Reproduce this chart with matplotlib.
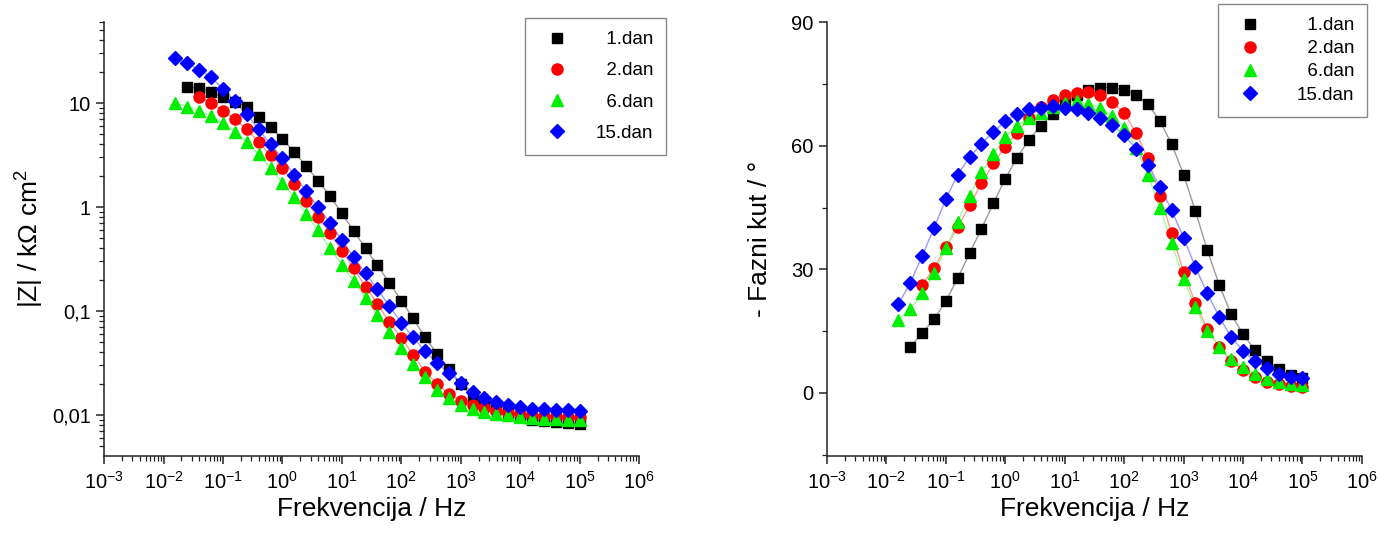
import numpy as np
import matplotlib
matplotlib.use('Agg')
import matplotlib.pyplot as plt
from matplotlib.ticker import FixedLocator, LogLocator, NullFormatter, MultipleLocator

plt.rcParams['font.family'] = ['Liberation Sans', 'DejaVu Sans']
plt.rcParams['mathtext.default'] = 'regular'

# frekvencije mjerenja (Hz)
frekvencija = [0.0158, 0.0251, 0.0398, 0.0631,
               0.1, 0.158, 0.251, 0.398, 0.631,
               1.0, 1.58, 2.51, 3.98, 6.31,
               10, 15.8, 25.1, 39.8, 63.1,
               100, 158, 251, 398, 631,
               1000, 1580, 2510, 3980, 6310,
               10000, 15800, 25100, 39800, 63100,
               100000]

# |Z| / kOhm cm2
z_dan1 = [14.3, 13.9, 12.8, 11.4, 10.2, 9.2, 7.4, 5.9, 4.5, 3.4, 2.48, 1.79, 1.28, 0.87,
          0.59, 0.40, 0.276, 0.186, 0.126, 0.085, 0.056, 0.039, 0.028, 0.020, 0.0150,
          0.0130, 0.0115, 0.0105, 0.0097, 0.0090, 0.0087, 0.0085, 0.0083, 0.0082]
z_dan2 = [11.4, 10.0, 8.4, 7.0, 5.6, 4.2, 3.16, 2.37, 1.66, 1.14, 0.80, 0.56, 0.38, 0.259,
          0.17, 0.117, 0.078, 0.055, 0.038, 0.026, 0.0200, 0.0160, 0.0137, 0.0124, 0.0116,
          0.0110, 0.0105, 0.0102, 0.0100, 0.0098, 0.0097, 0.0096, 0.0095]
z_dan6 = [10.0, 9.2, 8.4, 7.5, 6.45, 5.3, 4.2, 3.24, 2.37, 1.70, 1.25, 0.86, 0.60, 0.40,
          0.28, 0.195, 0.133, 0.091, 0.063, 0.044, 0.031, 0.023, 0.0173, 0.0145, 0.0125,
          0.0115, 0.0108, 0.0103, 0.0100, 0.0096, 0.0094, 0.0092, 0.0091, 0.0090, 0.0090]
z_dan15 = [27, 24, 21, 17.8, 13.6, 10.5, 7.8, 5.6, 4.0, 2.95, 2.04, 1.43, 1.0, 0.70,
           0.48, 0.33, 0.23, 0.162, 0.112, 0.077, 0.056, 0.041, 0.0316, 0.0254, 0.0204,
           0.0166, 0.0146, 0.0133, 0.0126, 0.0120, 0.0115, 0.0114, 0.0112, 0.0111, 0.0110]

# - fazni kut / stupnjevi
kut_dan1 = [11.1, 14.5, 17.9, 22.3, 27.8, 33.9, 39.9, 46.0, 52.0, 57.1, 61.5, 64.9, 67.8,
            70.4, 72.3, 73.5, 74.1, 74.1, 73.6, 72.4, 70.1, 66.0, 60.4, 53.0, 44.1, 34.6,
            26.2, 19.1, 14.3, 10.4, 7.7, 5.8, 4.4, 3.6]
kut_dan2 = [26.1, 30.3, 35.3, 40.2, 45.5, 50.9, 55.7, 59.8, 63.2, 66.8, 69.3, 71.2, 72.3,
            72.9, 73.1, 72.4, 70.7, 67.9, 63.2, 56.9, 47.9, 38.7, 29.3, 21.8, 15.5, 11.1,
            7.7, 5.6, 3.9, 2.7, 2.2, 1.7, 1.5]
kut_dan6 = [17.7, 20.3, 24.2, 29.0, 35.1, 41.4, 47.9, 53.5, 58.1, 62.0, 64.9, 66.8, 68.0,
            69.4, 70.3, 70.8, 70.2, 69.2, 67.3, 64.4, 59.5, 52.9, 45.0, 36.3, 27.6, 20.8,
            15.0, 11.1, 8.2, 6.3, 4.6, 3.4, 2.6, 2.2, 1.9]
kut_dan15 = [21.5, 26.6, 33.2, 40.0, 47.0, 53.0, 57.2, 60.5, 63.4, 65.9, 67.8, 68.8, 69.1,
             69.6, 69.2, 69.0, 68.0, 66.8, 65.1, 62.5, 59.3, 55.3, 50.1, 44.3, 37.7, 30.5,
             24.2, 18.4, 13.6, 10.2, 7.7, 6.1, 4.6, 3.9, 3.6]

# oznake u legendi (razmak poravnava tekst udesno kao u originalu)
oznake = ['\u20071.dan', '\u20072.dan', '\u20076.dan', '15.dan']
# prvi indeks frekvencije za svaku seriju
pocetak = [1, 2, 0, 0]
stil = [('s', 'black', '#9a9a9a', 7.1),
        ('o', 'red', '#ff9a9a', 8.0),
        ('^', '#00ee00', '#9aff9a', 8.0),
        ('D', 'blue', '#9a9aff', 7.1)]

fig = plt.figure(figsize=(13.95, 5.35), dpi=100)
ax1 = fig.add_axes([0.0746, 0.1477, 0.3835, 0.811])
ax2 = fig.add_axes([0.5928, 0.1477, 0.3835, 0.811])


def uredi_x(ax):
    ax.set_xscale('log')
    ax.set_xlim(1e-3, 1e6)
    ax.xaxis.set_major_locator(FixedLocator([10.0 ** k for k in range(-3, 7)]))
    ax.set_xticklabels(['$10^{%d}$' % k for k in range(-3, 7)])
    ax.xaxis.set_minor_locator(LogLocator(base=10, subs=np.arange(2, 10), numticks=20))
    ax.xaxis.set_minor_formatter(NullFormatter())
    ax.set_xlabel('Frekvencija / Hz', fontsize=19, labelpad=3)
    for s in ['top', 'right']:
        ax.spines[s].set_visible(False)
    for s in ['left', 'bottom']:
        ax.spines[s].set_linewidth(1.1)
        ax.spines[s].set_color('#222222')
    ax.tick_params(which='major', length=6, width=1.1, labelsize=14.5, color='#222222')
    ax.tick_params(which='minor', length=3.5, width=0.9, color='#222222')
    ax.tick_params(axis='x', pad=5)


z_serije = [z_dan1, z_dan2, z_dan6, z_dan15]
kut_serije = [kut_dan1, kut_dan2, kut_dan6, kut_dan15]

for i in range(4):
    f = frekvencija[pocetak[i]:]
    m, c, lc, ms = stil[i]
    ax1.plot(f, z_serije[i], color=lc, lw=1.0, zorder=1)
    ax1.plot(f, z_serije[i], linestyle='', marker=m, color=c, markersize=ms,
             label=oznake[i], zorder=2 + i * 0.1)
    ax2.plot(f, kut_serije[i], color=lc, lw=1.0, zorder=1)
    ax2.plot(f, kut_serije[i], linestyle='', marker=m, color=c, markersize=ms,
             label=oznake[i], zorder=2 + i * 0.1)

# lijevi graf - modul impedancije
uredi_x(ax1)
ax1.set_yscale('log')
ax1.set_ylim(0.00404, 60)
ax1.yaxis.set_major_locator(FixedLocator([0.01, 0.1, 1, 10]))
ax1.set_yticklabels(['0,01', '0,1', '1', '10'])
ax1.yaxis.set_minor_locator(LogLocator(base=10, subs=np.arange(2, 10), numticks=20))
ax1.yaxis.set_minor_formatter(NullFormatter())
ax1.set_ylabel('|Z| / k\u03a9 cm$^{2}$', fontsize=19, labelpad=4)

# desni graf - fazni kut
uredi_x(ax2)
ax2.set_ylim(-15.3, 90)
ax2.yaxis.set_major_locator(FixedLocator([0, 30, 60, 90]))
ax2.yaxis.set_minor_locator(MultipleLocator(15))
ax2.set_ylabel('- Fazni kut / \u00b0', fontsize=19, labelpad=14)


def legenda(ax, sidro, razmak, pad_teksta):
    leg = ax.legend(loc='upper left', bbox_to_anchor=sidro, bbox_transform=fig.transFigure,
                    frameon=True, fancybox=False, edgecolor='#888888', framealpha=1,
                    fontsize=13.5, handletextpad=pad_teksta, borderpad=0.7,
                    labelspacing=razmak, handlelength=2.0, borderaxespad=0)
    leg.get_frame().set_linewidth(1.0)
    return leg


legenda(ax1, (525 / 1395, 1 - 18 / 535), 0.75, 1.07)
legenda(ax2, (1218 / 1395, 1 - 4 / 535), 0.32, 1.5)

plt.savefig('out.png', dpi=100)
